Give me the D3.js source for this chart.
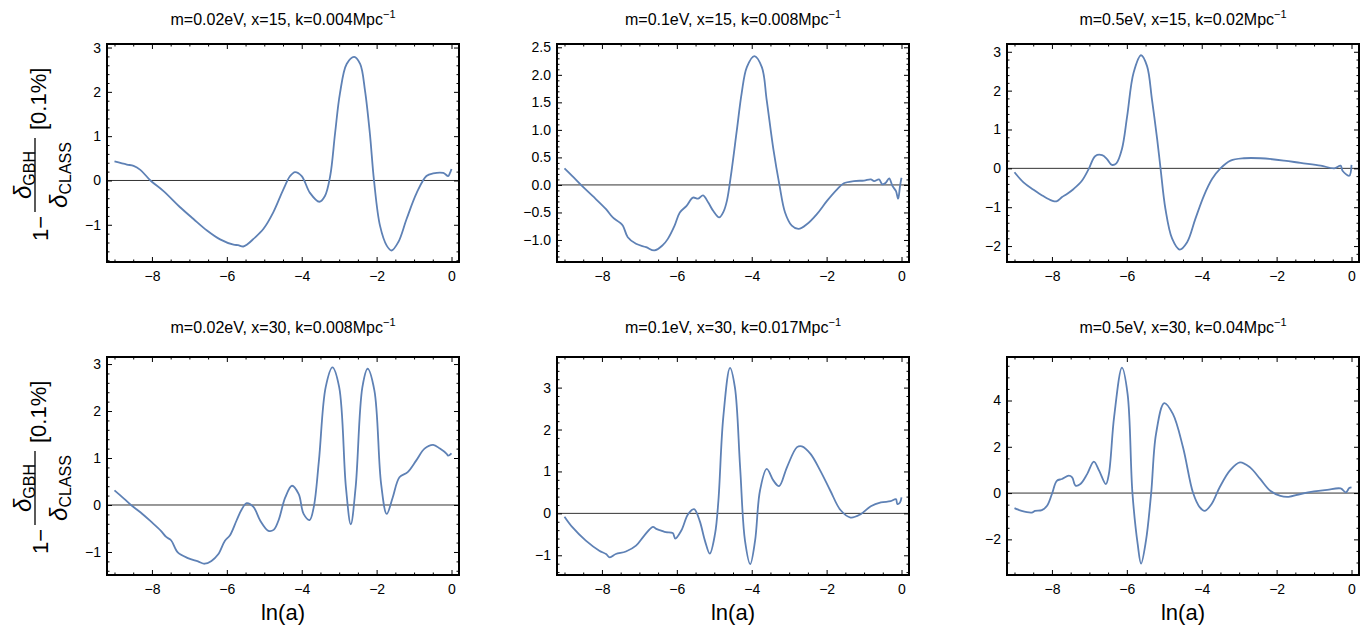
<!DOCTYPE html>
<html>
<head>
<meta charset="utf-8">
<script src="https://cdn.jsdelivr.net/npm/d3@7"></script>
<style>
	body { margin: 0; background: #fff; }
	text { font-family: "Liberation Sans", Arial, sans-serif; fill: #000; }
</style>
</head>
<body>
<svg id="chart" width="1366" height="633"></svg>
<script>
"use strict";

/* global d3 */

// Panel titles (the "-1" exponent is added as a superscript)
var titles = [
	"m=0.02eV, x=15, k=0.004Mpc",
	"m=0.1eV, x=15, k=0.008Mpc",
	"m=0.5eV, x=15, k=0.02Mpc",
	"m=0.02eV, x=30, k=0.008Mpc",
	"m=0.1eV, x=30, k=0.017Mpc",
	"m=0.5eV, x=30, k=0.04Mpc"
];

// Curves, [ln(a), 1 - dGBH/dCLASS in 0.1%]
var curveA = [[-9.0,0.43],[-8.67,0.36],[-8.49,0.33],[-8.31,0.24],[-8.04,0.0],[-7.69,-0.24],[-7.24,-0.61],
	[-6.89,-0.87],[-6.53,-1.13],[-6.18,-1.33],[-5.82,-1.45],[-5.7,-1.46],[-5.56,-1.49],[-5.45,-1.44],
	[-5.29,-1.32],[-5.02,-1.09],[-4.76,-0.72],[-4.49,-0.2],[-4.31,0.1],[-4.18,0.19],[-4.0,0.1],
	[-3.78,-0.28],[-3.53,-0.48],[-3.38,-0.35],[-3.24,0.1],[-3.11,1.06],[-2.98,1.96],[-2.8,2.63],
	[-2.6,2.79],[-2.44,2.63],[-2.31,2.03],[-2.18,1.06],[-2.07,0],[-1.91,-1.02],[-1.73,-1.47],
	[-1.6,-1.58],[-1.42,-1.39],[-1.2,-0.87],[-0.93,-0.28],[-0.67,0.1],[-0.49,0.16],[-0.22,0.17],
	[-0.09,0.1],[-0.04,0.17],[0,0.26]];

var curveB = [[-9.0,0.30],[-8.79,0.16],[-8.56,0],[-8.25,-0.2],[-7.89,-0.44],[-7.71,-0.59],[-7.53,-0.68],
	[-7.44,-0.74],[-7.31,-0.95],[-7.09,-1.07],[-6.82,-1.13],[-6.6,-1.19],[-6.37,-1.09],[-6.24,-0.98],
	[-6.06,-0.74],[-5.92,-0.5],[-5.74,-0.38],[-5.57,-0.23],[-5.43,-0.25],[-5.3,-0.19],[-5.16,-0.32],
	[-5.03,-0.47],[-4.87,-0.59],[-4.75,-0.48],[-4.66,-0.28],[-4.56,0.15],[-4.4,0.98],[-4.27,1.66],
	[-4.13,2.14],[-3.93,2.34],[-3.73,2.14],[-3.6,1.54],[-3.42,0.64],[-3.26,0],[-3.11,-0.5],
	[-2.93,-0.74],[-2.75,-0.80],[-2.52,-0.71],[-2.26,-0.53],[-1.99,-0.29],[-1.72,-0.08],[-1.54,0.03],
	[-1.27,0.07],[-1.0,0.08],[-0.82,0.1],[-0.73,0.07],[-0.6,0.1],[-0.51,0.01],[-0.42,0.04],
	[-0.33,0.12],[-0.24,-0.02],[-0.15,-0.11],[-0.09,-0.25],[-0.04,-0.02],[0,0.13]];

var curveC = [[-9.0,-0.1],[-8.76,-0.36],[-8.49,-0.55],[-8.22,-0.72],[-8.0,-0.83],[-7.88,-0.85],
	[-7.73,-0.74],[-7.6,-0.66],[-7.42,-0.53],[-7.2,-0.32],[-7.02,-0.02],[-6.84,0.32],[-6.66,0.34],
	[-6.53,0.24],[-6.4,0.09],[-6.28,0.13],[-6.13,0.5],[-5.99,1.35],[-5.82,2.46],[-5.62,2.91],
	[-5.46,2.63],[-5.33,1.78],[-5.19,0.75],[-5.1,0],[-4.97,-1.04],[-4.79,-1.81],[-4.59,-2.09],
	[-4.39,-1.9],[-4.17,-1.3],[-3.94,-0.7],[-3.72,-0.27],[-3.5,0],[-3.23,0.2],[-2.87,0.26],
	[-2.43,0.26],[-1.8,0.2],[-1.36,0.14],[-0.82,0.07],[-0.46,0],[-0.29,0.07],[-0.24,-0.06],
	[-0.06,-0.19],[0,0.09]];

var curveD = [[-9.0,0.31],[-8.74,0.13],[-8.56,0],[-8.3,-0.16],[-8.03,-0.35],[-7.76,-0.55],[-7.62,-0.68],
	[-7.49,-0.75],[-7.31,-1.01],[-7.04,-1.13],[-6.77,-1.2],[-6.59,-1.25],[-6.41,-1.19],[-6.23,-1.05],
	[-6.05,-0.76],[-5.92,-0.65],[-5.74,-0.33],[-5.6,-0.09],[-5.47,0.04],[-5.29,-0.04],[-5.11,-0.33],
	[-4.89,-0.55],[-4.75,-0.53],[-4.62,-0.33],[-4.44,0.16],[-4.26,0.41],[-4.08,0.23],[-3.95,-0.19],
	[-3.79,-0.32],[-3.68,-0.05],[-3.54,0.95],[-3.36,2.51],[-3.18,2.93],[-3.0,2.51],[-2.82,0.38],
	[-2.69,-0.41],[-2.56,0.38],[-2.38,2.51],[-2.24,2.9],[-2.06,2.44],[-1.88,0.45],[-1.73,-0.19],
	[-1.57,0.16],[-1.39,0.59],[-1.17,0.7],[-0.94,0.95],[-0.72,1.2],[-0.49,1.28],[-0.31,1.2],
	[-0.13,1.09],[-0.09,1.05],[0,1.1]];

var curveE = [[-9.0,-0.08],[-8.79,-0.33],[-8.43,-0.65],[-8.07,-0.89],[-7.89,-0.97],[-7.79,-1.05],
	[-7.63,-0.97],[-7.36,-0.91],[-7.09,-0.77],[-6.87,-0.53],[-6.64,-0.32],[-6.55,-0.37],[-6.42,-0.41],
	[-6.29,-0.45],[-6.11,-0.47],[-6.04,-0.6],[-5.88,-0.41],[-5.7,-0.02],[-5.54,0.1],[-5.39,-0.18],
	[-5.25,-0.65],[-5.12,-0.96],[-4.98,-0.49],[-4.89,0.3],[-4.76,2.29],[-4.58,3.47],[-4.45,3.01],
	[-4.31,1.1],[-4.18,-0.65],[-4.04,-1.21],[-3.91,-0.65],[-3.78,0.54],[-3.6,1.06],[-3.42,0.78],
	[-3.27,0.65],[-3.06,1.1],[-2.79,1.58],[-2.66,1.6],[-2.43,1.42],[-2.17,1.02],[-1.9,0.54],
	[-1.63,0.08],[-1.36,-0.1],[-1.09,-0.02],[-0.82,0.17],[-0.55,0.26],[-0.29,0.29],[-0.15,0.34],
	[-0.11,0.22],[-0.04,0.26],[0,0.38]];

var curveF = [[-9.0,-0.65],[-8.81,-0.77],[-8.54,-0.84],[-8.45,-0.77],[-8.27,-0.74],[-8.13,-0.55],
	[-8.0,-0.04],[-7.87,0.53],[-7.73,0.61],[-7.55,0.75],[-7.46,0.68],[-7.37,0.32],[-7.24,0.39],
	[-7.06,0.82],[-6.88,1.36],[-6.74,0.97],[-6.56,0.39],[-6.48,0.82],[-6.34,3.28],[-6.13,5.42],
	[-5.98,4.29],[-5.85,0],[-5.71,-2.21],[-5.62,-3.05],[-5.49,-2.07],[-5.35,0],[-5.22,2.56],
	[-5.0,3.89],[-4.77,3.42],[-4.5,1.98],[-4.23,0],[-4.05,-0.62],[-3.92,-0.77],[-3.74,-0.48],
	[-3.52,0.25],[-3.25,0.97],[-2.98,1.33],[-2.71,1.11],[-2.44,0.61],[-2.17,0.1],[-1.9,-0.12],
	[-1.68,-0.16],[-1.36,-0.04],[-1.0,0.07],[-0.65,0.14],[-0.29,0.2],[-0.15,0.03],[-0.06,0.22],
	[0,0.25]];

var curves = [curveA, curveB, curveC, curveD, curveE, curveF];

// Axis ranges and ticks
var xDomain = [-9.2, 0.2];
var xMajorTicks = [-8, -6, -4, -2, 0];
var xMinorStep = 0.5;

var yDomains = [[-1.84, 3.08], [-1.40, 2.56], [-2.41, 3.2], [-1.49, 3.15], [-1.47, 3.73], [-3.54, 5.88]];
var yMajorTicks = [
	[-1, 0, 1, 2, 3],
	[-1.0, -0.5, 0.0, 0.5, 1.0, 1.5, 2.0, 2.5],
	[-2, -1, 0, 1, 2, 3],
	[-1, 0, 1, 2, 3],
	[-1, 0, 1, 2, 3],
	[-2, 0, 2, 4]
];
var yMinorSteps = [0.2, 0.1, 0.2, 0.2, 0.2, 0.5];
var yTickFormats = ["d", ".1f", "d", "d", "d", "d"];

// Layout
var colLeft = [107, 557, 1007];
var rowTop = [44, 357];
var panelW = 352, panelH = 218;
var titleBaseline = [25, 333];
var lineColor = "#5E81B5";

var svg = d3.select("#chart");

function minorTicks(domain, step, majors) {
	var lo = Math.ceil(domain[0] / step), hi = Math.floor(domain[1] / step);
	var out = [];
	for (var i = lo; i <= hi; i++) {
		var v = Math.round(i * step * 1000) / 1000;
		if (majors.indexOf(v) < 0) out.push(v);
	}
	return out;
}

function tickAxis(g, axisFn, scale, values, size, fmt, pad) {
	var ax = axisFn(scale).tickValues(values).tickSize(size).tickPadding(pad || 3);
	ax.tickFormat(fmt ? d3.format(fmt) : "");
	g.call(ax);
	g.select(".domain").remove();
	g.selectAll(".tick line").attr("stroke", "#000").attr("stroke-width", 1);
	g.selectAll(".tick text").attr("font-size", 14).attr("font-family", "Liberation Sans, Arial, sans-serif").attr("fill", "#000");
}

function drawPanel(i) {
	var col = i % 3, row = Math.floor(i / 3);
	var left = colLeft[col], top = rowTop[row];
	var x = d3.scaleLinear().domain(xDomain).range([left, left + panelW]);
	var y = d3.scaleLinear().domain(yDomains[i]).range([top + panelH, top]);
	var g = svg.append("g").attr("class", "panel-" + i);

	// Zero line
	g.append("line").attr("x1", left).attr("x2", left + panelW)
		.attr("y1", y(0)).attr("y2", y(0))
		.attr("stroke", "#333").attr("stroke-width", 1);

	// Curve
	var line = d3.line().x(function(d) { return x(d[0]); }).y(function(d) { return y(d[1]); })
		.curve(d3.curveCatmullRom.alpha(0.5));
	g.append("path").datum(curves[i]).attr("d", line)
		.attr("fill", "none").attr("stroke", lineColor).attr("stroke-width", 1.8)
		.attr("stroke-linejoin", "round");

	// Ticks on all four sides, pointing inward
	var xMinor = minorTicks(xDomain, xMinorStep, xMajorTicks);
	var yMinor = minorTicks(yDomains[i], yMinorSteps[i], yMajorTicks[i]);

	tickAxis(g.append("g").attr("transform", "translate(0," + (top + panelH) + ")"),
		d3.axisBottom, x, xMajorTicks, -5, "d", 9);
	tickAxis(g.append("g").attr("transform", "translate(0," + (top + panelH) + ")"),
		d3.axisBottom, x, xMinor, -2.5, null);
	tickAxis(g.append("g").attr("transform", "translate(0," + top + ")"),
		d3.axisTop, x, xMajorTicks, -5, null);
	tickAxis(g.append("g").attr("transform", "translate(0," + top + ")"),
		d3.axisTop, x, xMinor, -2.5, null);

	tickAxis(g.append("g").attr("transform", "translate(" + left + ",0)"),
		d3.axisLeft, y, yMajorTicks[i], -5, yTickFormats[i], 6);
	tickAxis(g.append("g").attr("transform", "translate(" + left + ",0)"),
		d3.axisLeft, y, yMinor, -2.5, null);
	tickAxis(g.append("g").attr("transform", "translate(" + (left + panelW) + ",0)"),
		d3.axisRight, y, yMajorTicks[i], -5, null);
	tickAxis(g.append("g").attr("transform", "translate(" + (left + panelW) + ",0)"),
		d3.axisRight, y, yMinor, -2.5, null);

	// Frame
	g.append("rect").attr("x", left).attr("y", top).attr("width", panelW).attr("height", panelH)
		.attr("fill", "none").attr("stroke", "#000").attr("stroke-width", 2);

	// Title with superscript
	var t = g.append("text").attr("x", left + panelW / 2).attr("y", titleBaseline[row])
		.attr("text-anchor", "middle").attr("font-size", 16);
	t.append("tspan").text(titles[i]);
	t.append("tspan").attr("dy", -7).attr("font-size", 11).text("\u22121");

	// Y label on first column
	if (col === 0) drawYLabel(48, top + panelH / 2);

	// X label on bottom row
	if (row === 1) {
		g.append("text").attr("x", left + panelW / 2).attr("y", 620)
			.attr("text-anchor", "middle").attr("font-size", 22).text("ln(a)");
	}
}

// 1 - dGBH/dCLASS [0.1%], rotated
function drawYLabel(bx, cy) {
	var g = svg.append("g").attr("transform", "translate(" + bx + "," + cy + ") rotate(-90)");
	g.append("text").attr("x", -88).attr("y", 0).attr("font-size", 22).text("1\u2212");
	g.append("line").attr("x1", -59).attr("x2", 15).attr("y1", -13).attr("y2", -13)
		.attr("stroke", "#000").attr("stroke-width", 1.3);
	var num = g.append("text").attr("x", -22).attr("y", -17).attr("text-anchor", "middle");
	num.append("tspan").attr("font-size", 24).attr("font-style", "italic").text("\u03b4");
	num.append("tspan").attr("font-size", 16).attr("dy", 4).text("GBH");
	var den = g.append("text").attr("x", -22).attr("y", 19).attr("text-anchor", "middle");
	den.append("tspan").attr("font-size", 24).attr("font-style", "italic").text("\u03b4");
	den.append("tspan").attr("font-size", 16).attr("dy", 4).text("CLASS");
	g.append("text").attr("x", 23).attr("y", -2).attr("font-size", 22).text("[0.1%]");
}

for (var i = 0; i < 6; i++) drawPanel(i);
</script>
</body>
</html>
